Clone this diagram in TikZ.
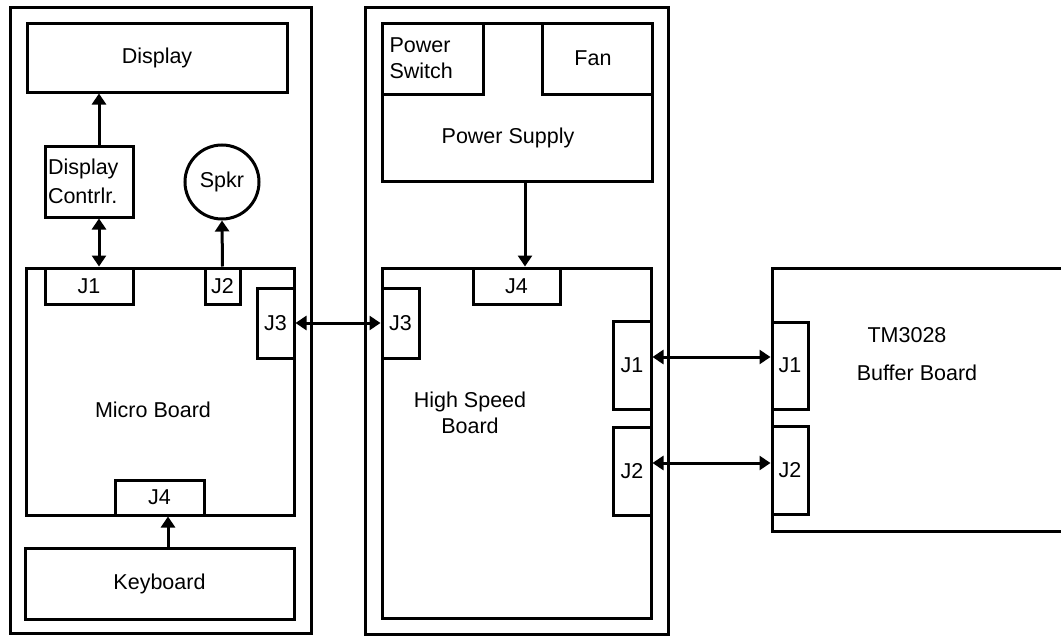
\documentclass[tikz,border=0pt]{standalone}
\usepackage{fontspec}
\setmainfont{Liberation Sans}
\usetikzlibrary{arrows.meta}
\begin{document}
\begin{tikzpicture}[x=1pt,y=-1pt,
  line width=3pt,
  every node/.style={font=\fontsize{21.5}{26}\selectfont},
  box/.style={draw,rectangle,inner sep=0pt,line width=3pt},
  lbl/.style={inner sep=0pt,align=center},
  conn/.style={line width=3pt,-{Triangle[length=11pt,width=14pt]}},
  dconn/.style={line width=3pt,{Triangle[length=11pt,width=14pt]}-{Triangle[length=11pt,width=14pt]}}]
\useasboundingbox (0,0) rectangle (1061,637);
% left unit
\node[box,minimum width=301,minimum height=626] (louter) at (160.5,320) {};
\node[box,minimum width=260,minimum height=69] (disp) at (157,57.5) {Display};
\node[box,minimum width=88,minimum height=71,align=left,text width=82pt,font=\fontsize{21.5}{29}\selectfont] (ctrl) at (89,181.5) {Display\\Contrlr.};
\node[draw,circle,line width=3pt,minimum size=74,inner sep=0pt] (spkr) at (222,182) {Spkr};
\node[box,minimum width=268,minimum height=247] (micro) at (160,391.5) {};
\node[lbl] (microlbl) at (153,410) {Micro Board};
\node[box,minimum width=88,minimum height=36] (mJ1) at (89,286) {J1};
\node[box,minimum width=35,minimum height=36] (mJ2) at (222.5,286) {J2};
\node[box,minimum width=37,minimum height=70] (mJ3) at (275.5,323) {J3};
\node[box,minimum width=89,minimum height=35] (mJ4) at (159.5,497.5) {J4};
\node[box,minimum width=269,minimum height=71] (kb) at (159.5,583.5) {Keyboard};
% middle unit
\node[box,minimum width=303,minimum height=627] (mouter) at (516.5,320.5) {};
\node[box,minimum width=270,minimum height=158] (ps) at (517,102) {};
\node[lbl] (pslbl) at (508,138) {Power Supply};
\node[box,minimum width=101,minimum height=71,align=left,text width=86pt] (psw) at (432.5,58.5) {Power\\Switch};
\node[box,minimum width=110,minimum height=71] (fan) at (597,58.5) {\hspace*{-8pt}Fan};
\node[box,minimum width=269,minimum height=350] (hs) at (516.5,443) {};
\node[lbl] (hslbl) at (470,413) {High Speed\\Board};
\node[box,minimum width=87,minimum height=36] (hJ4) at (516.5,286) {J4};
\node[box,minimum width=37,minimum height=70] (hJ3) at (400.5,323) {J3};
\node[box,minimum width=38,minimum height=88] (hJ1) at (632,365) {J1};
\node[box,minimum width=38,minimum height=88] (hJ2) at (632,471) {J2};
% buffer board
\coordinate (bbtr) at (1065,268);
\coordinate (bbtl) at (772,268);
\coordinate (bbbl) at (772,531);
\coordinate (bbbr) at (1065,531);
\draw (bbtr) -- (bbtl) -- (bbbl) -- (bbbr);
\node[box,minimum width=36,minimum height=87] (bJ1) at (790,365.5) {J1};
\node[box,minimum width=36,minimum height=88] (bJ2) at (790,470) {J2};
\node[lbl] (tm) at (907,335) {TM3028};
\node[lbl] (bblbl) at (917,373) {Buffer Board};
% connectors
\draw[conn] ([xshift=10pt]ctrl.north) -- ([xshift=10pt]ctrl.north |- disp.south);
\draw[dconn] ([xshift=10pt]ctrl.south) -- ([xshift=10pt]ctrl.south |- micro.north);
\draw[conn] (mJ2.north) -- (spkr.south);
\draw[conn] ([xshift=8.5pt]mJ4.south |- kb.north) -- ([xshift=8.5pt]mJ4.south);
\draw[dconn] (mJ3.east) -- (hJ3.west);
\draw[conn] ([xshift=8.5pt]hJ4.north |- ps.south) -- ([xshift=8.5pt]hJ4.north);
\draw[dconn] ([yshift=8pt]hJ1.east) -- ([yshift=8pt]hJ1.east -| bJ1.west);
\draw[dconn] ([yshift=8pt]hJ2.east) -- ([yshift=8pt]hJ2.east -| bJ2.west);
\end{tikzpicture}
\end{document}
